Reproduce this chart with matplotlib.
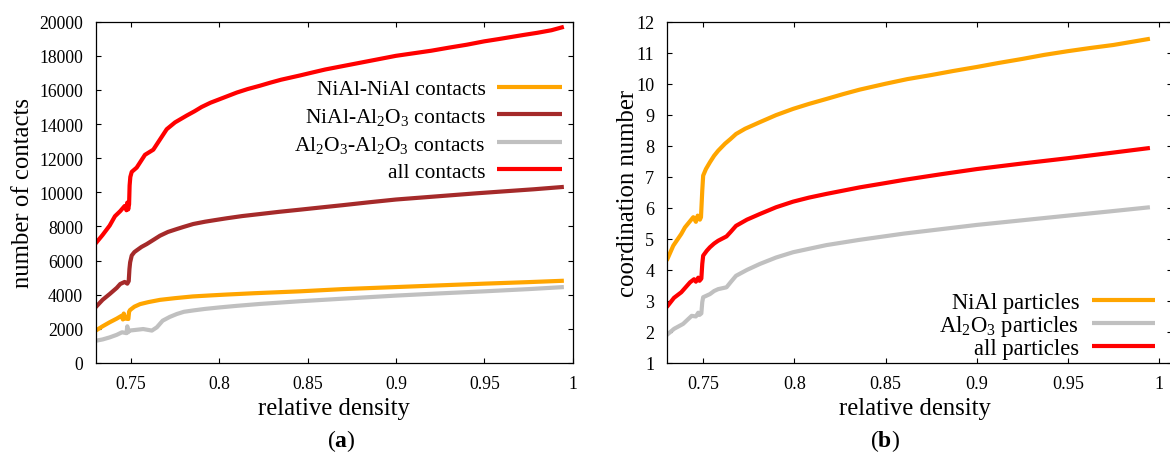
import matplotlib
matplotlib.use('Agg')
import matplotlib.pyplot as plt

plt.rcParams['font.family'] = ['Liberation Serif', 'DejaVu Serif']
plt.rcParams['mathtext.fontset'] = 'custom'
plt.rcParams['mathtext.rm'] = 'Liberation Serif'
plt.rcParams['mathtext.it'] = 'Liberation Serif:italic'
plt.rcParams['mathtext.bf'] = 'Liberation Serif:bold'

# ---------------- data: panel (a) number of contacts ----------------
all_contacts_x = [0.730, 0.734, 0.738, 0.741, 0.744, 0.7465, 0.7475, 0.748, 0.7485, 0.749,
                  0.7493, 0.7497, 0.7505, 0.7533, 0.758, 0.7627, 0.7665, 0.7703, 0.775, 0.7816,
                  0.786, 0.790, 0.795, 0.8005, 0.805, 0.810, 0.816, 0.8231, 0.829, 0.835,
                  0.8457, 0.853, 0.860, 0.868, 0.875, 0.883, 0.890, 0.900, 0.910, 0.920,
                  0.930, 0.940, 0.950, 0.958, 0.965, 0.972, 0.980, 0.988, 0.995]
all_contacts_y = [7000, 7500, 8050, 8600, 8900, 9200, 8950, 9400, 9000, 9300,
                  10400, 10900, 11200, 11450, 12200, 12500, 13100, 13700, 14100, 14500,
                  14750, 15000, 15250, 15470, 15650, 15850, 16050, 16250, 16430, 16600,
                  16850, 17030, 17200, 17360, 17500, 17660, 17800, 18000, 18150, 18300,
                  18480, 18650, 18850, 18980, 19100, 19220, 19350, 19500, 19700]

nial_al2o3_x = [0.730, 0.734, 0.738, 0.742, 0.744, 0.7465, 0.748, 0.7488, 0.7492, 0.7496,
                0.7505, 0.752, 0.7533, 0.756, 0.759, 0.763, 0.7665, 0.771, 0.776, 0.780,
                0.7853, 0.792, 0.798, 0.8042, 0.813, 0.8231, 0.834, 0.8457, 0.858, 0.870,
                0.885, 0.900, 0.915, 0.930, 0.945, 0.960, 0.978, 0.995]
nial_al2o3_y = [3260, 3700, 4040, 4400, 4630, 4750, 4650, 4800, 5500, 5900,
                6300, 6500, 6600, 6800, 6970, 7230, 7460, 7680, 7850, 7980,
                8145, 8280, 8380, 8480, 8610, 8730, 8860, 8985, 9120, 9250,
                9420, 9580, 9700, 9820, 9940, 10050, 10180, 10320]

nial_nial_x = [0.730, 0.734, 0.738, 0.742, 0.7448, 0.7455, 0.746, 0.747, 0.7486, 0.749,
               0.7495, 0.752, 0.7552, 0.760, 0.7665, 0.775, 0.785, 0.795, 0.804, 0.820,
               0.8457, 0.870, 0.900, 0.925, 0.950, 0.975, 0.995]
nial_nial_y = [1890, 2150, 2385, 2600, 2770, 2550, 2900, 2600, 2580, 3000,
               3100, 3300, 3450, 3570, 3700, 3800, 3900, 3960, 4010, 4090,
               4200, 4330, 4450, 4550, 4650, 4740, 4820]

al2o3_al2o3_x = [0.730, 0.734, 0.738, 0.742, 0.745, 0.7475, 0.748, 0.7485, 0.749, 0.751,
                 0.757, 0.7619, 0.7647, 0.768, 0.772, 0.776, 0.780, 0.7853, 0.792, 0.8005,
                 0.810, 0.823, 0.8457, 0.870, 0.900, 0.925, 0.950, 0.975, 0.995]
al2o3_al2o3_y = [1300, 1380, 1500, 1650, 1800, 1750, 2150, 1800, 1900, 1920,
                 1990, 1900, 2090, 2480, 2700, 2870, 3000, 3080, 3170, 3260,
                 3350, 3460, 3620, 3770, 3950, 4080, 4200, 4330, 4450]

# ---------------- data: panel (b) coordination number ----------------
nial_part_x = [0.730, 0.7336, 0.738, 0.740, 0.7446, 0.746, 0.747, 0.7482, 0.7488, 0.7495,
               0.750, 0.7515, 0.7537, 0.756, 0.7582, 0.762, 0.765, 0.768, 0.773, 0.781,
               0.790, 0.7993, 0.808, 0.8176, 0.827, 0.8358, 0.850, 0.862, 0.875, 0.887,
               0.900, 0.912, 0.925, 0.937, 0.950, 0.962, 0.975, 0.985, 0.995]
nial_part_y = [4.30, 4.78, 5.16, 5.37, 5.70, 5.55, 5.75, 5.62, 5.70, 6.55,
               7.04, 7.25, 7.47, 7.68, 7.84, 8.07, 8.22, 8.38, 8.55, 8.76,
               8.99, 9.19, 9.35, 9.51, 9.67, 9.81, 10.00, 10.15, 10.28, 10.41,
               10.54, 10.67, 10.80, 10.93, 11.05, 11.15, 11.25, 11.35, 11.45]

al2o3_part_x = [0.730, 0.734, 0.739, 0.7437, 0.746, 0.7473, 0.748, 0.749, 0.7495, 0.750,
                0.7537, 0.756, 0.7582, 0.7628, 0.765, 0.768, 0.774, 0.781, 0.790, 0.7993,
                0.808, 0.8176, 0.8358, 0.860, 0.880, 0.900, 0.925, 0.950, 0.972, 0.995]
al2o3_part_y = [1.90, 2.10, 2.26, 2.52, 2.50, 2.62, 2.55, 2.60, 2.96, 3.12,
                3.22, 3.32, 3.38, 3.44, 3.60, 3.81, 4.00, 4.19, 4.40, 4.57,
                4.68, 4.80, 4.97, 5.17, 5.31, 5.45, 5.60, 5.75, 5.88, 6.02]

all_part_x = [0.730, 0.734, 0.738, 0.7428, 0.745, 0.746, 0.7473, 0.748, 0.749, 0.7495,
              0.750, 0.752, 0.7537, 0.756, 0.7582, 0.7628, 0.765, 0.768, 0.774, 0.781,
              0.790, 0.7993, 0.808, 0.8176, 0.8358, 0.848, 0.860, 0.880, 0.900, 0.925,
              0.950, 0.972, 0.995]
all_part_y = [2.80, 3.10, 3.28, 3.60, 3.70, 3.62, 3.75, 3.65, 3.72, 4.19,
              4.46, 4.62, 4.73, 4.85, 4.94, 5.08, 5.22, 5.42, 5.62, 5.80,
              6.02, 6.20, 6.33, 6.45, 6.66, 6.78, 6.90, 7.08, 7.25, 7.43,
              7.60, 7.76, 7.93]

x_ticks = [0.75, 0.80, 0.85, 0.90, 0.95, 1.00]
x_tick_labels = ["0.75", "0.8", "0.85", "0.9", "0.95", "1"]
yL_ticks = list(range(0, 20001, 2000))
yR_ticks = list(range(1, 13))

C_ORANGE = '#FFA500'
C_BROWN = '#A52A2A'
C_GRAY = '#C0C0C0'
C_RED = '#FF0000'
LW = 3.0

W, H = 1170, 464
fig = plt.figure(figsize=(W / 100, H / 100), dpi=100)
axL = fig.add_axes([95.5 / W, 1 - 364 / H, (572.7 - 95.5) / W, (364 - 22.7) / H])
axR = fig.add_axes([666.7 / W, 1 - 364 / H, (1172 - 666.7) / W, (364 - 22.7) / H])

kw = dict(lw=LW, solid_capstyle='butt', solid_joinstyle='round')
axL.plot(nial_nial_x, nial_nial_y, color=C_ORANGE, label='NiAl-NiAl contacts', **kw)
axL.plot(nial_al2o3_x, nial_al2o3_y, color=C_BROWN, label='NiAl-Al$_2$O$_3$ contacts', **kw)
axL.plot(al2o3_al2o3_x, al2o3_al2o3_y, color=C_GRAY,
         label='Al$_2$O$_3$-Al$_2$O$_3$ contacts', **kw)
axL.plot(all_contacts_x, all_contacts_y, color=C_RED, label='all contacts', **kw)

axR.plot(nial_part_x, nial_part_y, color=C_ORANGE, label='NiAl particles', **kw)
axR.plot(al2o3_part_x, al2o3_part_y, color=C_GRAY, label='Al$_2$O$_3$ particles', **kw)
axR.plot(all_part_x, all_part_y, color=C_RED, label='all particles', **kw)

axL.set_xlim(0.73, 1.0)
axL.set_ylim(0, 20000)
axR.set_xlim(0.73, 1.0 + 13 / 1827)
axR.set_ylim(1, 12)

for ax, yt, fs in ((axL, yL_ticks, 12.7), (axR, yR_ticks, 13.1)):
    ax.set_xticks(x_ticks, x_tick_labels)
    ax.set_yticks(yt, [str(v) for v in yt])
    ax.tick_params(direction='in', length=3.5, width=0.8, top=True, right=True,
                   labelsize=fs, pad=9)
    for s in ax.spines.values():
        s.set_linewidth(0.9)

axL.set_xlabel('relative density', fontsize=17.8)
axL.xaxis.set_label_coords(0.5, -0.10)
axL.set_ylabel('number of contacts', fontsize=17.8)
axL.yaxis.set_label_coords(-0.129, 0.5)

axR.set_xlabel('relative density', fontsize=17.8)
axR.xaxis.set_label_coords(0.491, -0.10)
axR.set_ylabel('coordination number', fontsize=17.8)
axR.yaxis.set_label_coords(-0.055, 0.5)

axL.legend(loc='upper right', bbox_to_anchor=(0.9776, 0.832), frameon=False,
           markerfirst=False, fontsize=15.5, handlelength=3.0, handletextpad=0.55,
           labelspacing=0.32, borderpad=0, borderaxespad=0)
axR.legend(loc='upper right', bbox_to_anchor=(0.9664, 0.208), frameon=False,
           markerfirst=False, fontsize=16.3, handlelength=2.8, handletextpad=0.55,
           labelspacing=0.0, borderpad=0, borderaxespad=0)

fig.text(341 / W, 1 - 441 / H, r'($\mathbf{a}$)', ha='center', va='center', fontsize=17)
fig.text(885 / W, 1 - 441 / H, r'($\mathbf{b}$)', ha='center', va='center', fontsize=17)

fig.savefig('out.png', dpi=100)
